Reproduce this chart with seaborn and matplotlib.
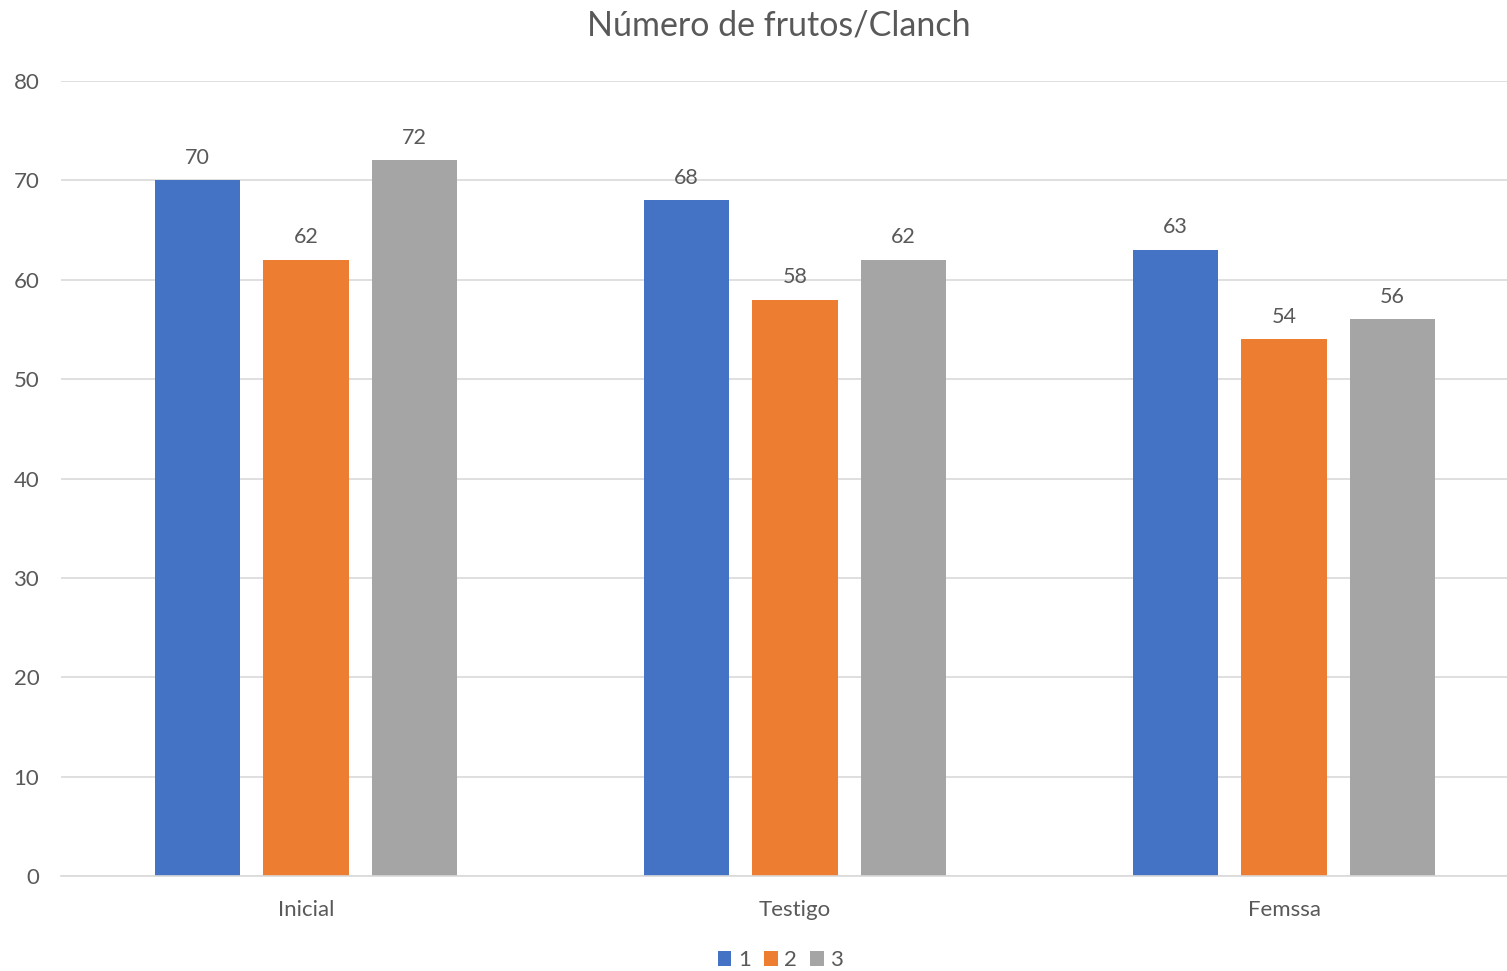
import pandas as pd
import matplotlib.pyplot as plt
import seaborn as sns

# Data
categories = ["Inicial", "Testigo", "Femssa"]
series = ["1", "2", "3"]
values_1 = [70, 68, 63]
values_2 = [62, 58, 54]
values_3 = [72, 62, 56]

colors = ["#4472C4", "#ED7D31", "#A5A5A5"]
text_color = "#595959"

rows = []
for s, vals in zip(series, [values_1, values_2, values_3]):
    for c, v in zip(categories, vals):
        rows.append({"Grupo": c, "Serie": s, "Valor": v})
data = pd.DataFrame(rows)

sns.set_style("white")
plt.rcParams["font.family"] = ["Lato", "DejaVu Sans"]

fig = plt.figure(figsize=(15.07, 9.71), dpi=100)
ax = fig.add_axes([0.0408, 0.0978, 0.9735, 0.8188])

sns.barplot(
    data=data, x="Grupo", y="Valor", hue="Serie",
    order=categories, hue_order=series, palette=colors,
    width=0.666, gap=0.216, saturation=1, linewidth=0, ax=ax, legend=True
)

for cont in ax.containers:
    ax.bar_label(cont, padding=9, fontsize=15.5, color=text_color)

ax.set_xlim(-0.5, 2.5)
ax.set_ylim(0, 80)
ax.set_yticks(range(0, 81, 10))
ax.yaxis.grid(True, color="#D9D9D9", linewidth=1.2)
ax.set_axisbelow(True)
for side in ["top", "right", "left"]:
    ax.spines[side].set_visible(False)
ax.spines["bottom"].set_color("#D9D9D9")
ax.spines["bottom"].set_linewidth(1.2)
ax.tick_params(axis="both", length=0, labelsize=16, labelcolor=text_color)
ax.tick_params(axis="x", pad=17)
ax.tick_params(axis="y", pad=16)
ax.set_xlabel("")
ax.set_ylabel("")

fig.text(0.5165, 0.974, "Número de frutos/Clanch", ha="center", va="center",
         fontsize=24.5, color=text_color)

handles, labels = ax.get_legend_handles_labels()
ax.legend(handles, labels, loc="center", bbox_to_anchor=(0.518, 0.011),
          bbox_transform=fig.transFigure, ncol=3, frameon=False,
          handlelength=0.6, handleheight=0.6, handletextpad=0.3,
          columnspacing=0.6, fontsize=16, labelcolor=text_color)

fig.savefig("out.png", dpi=100)
